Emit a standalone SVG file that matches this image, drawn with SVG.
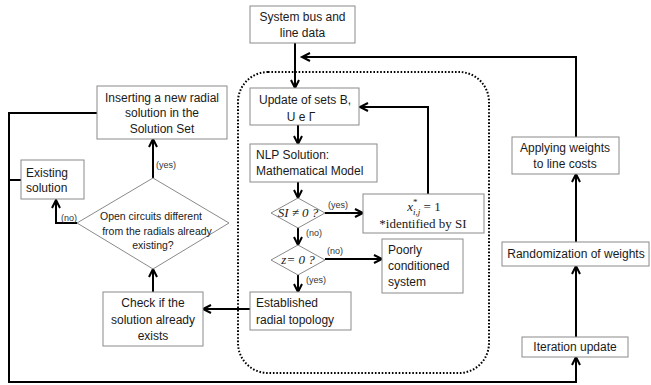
<svg xmlns="http://www.w3.org/2000/svg" width="651" height="385" viewBox="0 0 651 385">
  <defs>
    <marker id="arrow" markerUnits="userSpaceOnUse" markerWidth="12" markerHeight="12" refX="9" refY="5" orient="auto">
      <path d="M1,1 L9,5 L1,9" fill="none" stroke="#000" stroke-width="2"/>
    </marker>
    <style>
      .box { fill: #fff; stroke: #8a8a8a; stroke-width: 1; }
      .dia { fill: #fff; stroke: #8a8a8a; stroke-width: 1; }
      .t { font-family: "Liberation Sans", Arial, sans-serif; font-size: 12px; fill: #1a1a1a; }
      .c { text-anchor: middle; }
      .dt { font-family: "Liberation Sans", Arial, sans-serif; font-size: 10.5px; fill: #1a1a1a; text-anchor: middle; }
      .lbl { font-family: "Liberation Sans", Arial, sans-serif; font-size: 9px; fill: #333; }
      .m { font-family: "Liberation Serif", "Times New Roman", serif; font-size: 13px; fill: #1a1a1a; }
      .link { fill: none; stroke: #000; stroke-width: 2; }
      .arr { marker-end: url(#arrow); }
      .frame { fill: none; stroke: #000; stroke-width: 2; stroke-dasharray: 1.6 1.8; }
    </style>
  </defs>

  <rect width="651" height="385" fill="#fff"/>

  <!-- dotted boundary of the optimisation stage -->
  <rect class="frame" x="238" y="72" width="251" height="301" rx="30" ry="30"/>

  <!-- connectors -->
  <g id="connectors">
    <path class="link arr" d="M295,43 V88"/>
    <path class="link arr" d="M576,137 V57 H302"/>
    <path class="link arr" d="M298,125 V144"/>
    <path class="link arr" d="M298,182 V198"/>
    <path class="link arr" d="M325,213 H363"/>
    <path class="link arr" d="M428,194 V107 H360"/>
    <path class="link arr" d="M298,227 V245"/>
    <path class="link arr" d="M325,259 H382"/>
    <path class="link arr" d="M298,275 V292"/>
    <path class="link arr" d="M250,309 H203"/>
    <path class="link arr" d="M153,292 V269"/>
    <path class="link arr" d="M153,178 V139"/>
    <path class="link arr" d="M77,223 H56 V200"/>
    <path class="link arr" d="M97,113 H9 V382 H576 V357"/>
    <path class="link" d="M9,180 H21"/>
    <path class="link arr" d="M576,242 V174"/>
    <path class="link arr" d="M576,337 V266"/>
    <text class="lbl" x="156" y="168">(yes)</text>
    <text class="lbl" x="61" y="221">(no)</text>
    <text class="lbl" x="328" y="208">(yes)</text>
    <text class="lbl" x="306" y="236">(no)</text>
    <text class="lbl" x="327" y="254">(no)</text>
    <text class="lbl" x="306" y="283">(yes)</text>
  </g>

  <g id="system-data">
    <rect class="box" x="250" y="6" width="105" height="37"/>
    <text class="t c" x="302.5" y="21">System bus and</text>
    <text class="t c" x="302.5" y="37">line data</text>
  </g>

  <g id="update-sets">
    <rect class="box" x="250" y="88" width="109" height="37"/>
    <text class="t c" x="305" y="104">Update of sets B,</text>
    <text class="t c" x="301" y="121">U e Γ</text>
  </g>

  <g id="nlp-solution">
    <rect class="box" x="250" y="144" width="127" height="38"/>
    <text class="t" x="256" y="159">NLP Solution:</text>
    <text class="t" x="256" y="175">Mathematical Model</text>
  </g>

  <g id="si-check">
    <polygon class="dia" points="298,198 325,213 298,228 271,213"/>
    <text class="m c" x="298" y="217" font-style="italic">SI ≠ 0 ?</text>
  </g>

  <g id="fixed-lines">
    <rect class="box" x="363" y="194" width="121" height="39"/>
    <text class="m c" x="424" y="211" font-size="15"><tspan font-style="italic">x</tspan><tspan font-size="9" dy="-6">*</tspan><tspan font-size="9" font-style="italic" dx="-4.5" dy="10">i,j</tspan><tspan dy="-4"> = 1</tspan></text>
    <text class="m c" x="423" y="228">*identified by SI</text>
  </g>

  <g id="z-check">
    <polygon class="dia" points="298,245 325,260 298,275 271,260"/>
    <text class="m c" x="298" y="264" font-style="italic">z= 0 ?</text>
  </g>

  <g id="poorly-conditioned">
    <rect class="box" x="382" y="239" width="81" height="54"/>
    <text class="t" x="388" y="254">Poorly</text>
    <text class="t" x="388" y="270">conditioned</text>
    <text class="t" x="388" y="286">system</text>
  </g>

  <g id="radial-topology">
    <rect class="box" x="250" y="292" width="101" height="38"/>
    <text class="t" x="256" y="307">Established</text>
    <text class="t" x="256" y="324">radial topology</text>
  </g>

  <g id="check-existing">
    <rect class="box" x="103" y="292" width="100" height="54"/>
    <text class="t c" x="153" y="307">Check if the</text>
    <text class="t c" x="153" y="324">solution already</text>
    <text class="t c" x="153" y="340">exists</text>
  </g>

  <g id="open-circuits">
    <polygon class="dia" points="153,178 229,223 153,269 77,223"/>
    <text class="dt" x="151" y="220">Open circuits different</text>
    <text class="dt" x="157" y="235">from the radials already</text>
    <text class="dt" x="153" y="249">existing?</text>
  </g>

  <g id="existing-solution">
    <rect class="box" x="21" y="160" width="63" height="39"/>
    <text class="t" x="26" y="177">Existing</text>
    <text class="t" x="26" y="192">solution</text>
  </g>

  <g id="insert-solution">
    <rect class="box" x="97" y="86" width="130" height="53"/>
    <text class="t c" x="162" y="102">Inserting a new radial</text>
    <text class="t c" x="162" y="117">solution in the</text>
    <text class="t c" x="162" y="133">Solution Set</text>
  </g>

  <g id="apply-weights">
    <rect class="box" x="512" y="137" width="107" height="37"/>
    <text class="t c" x="565" y="152">Applying weights</text>
    <text class="t c" x="565" y="168">to line costs</text>
  </g>

  <g id="randomize-weights">
    <rect class="box" x="502" y="242" width="147" height="24"/>
    <text class="t c" x="576" y="258">Randomization of weights</text>
  </g>

  <g id="iteration-update">
    <rect class="box" x="522" y="337" width="106" height="20"/>
    <text class="t c" x="575" y="351">Iteration update</text>
  </g>
</svg>
